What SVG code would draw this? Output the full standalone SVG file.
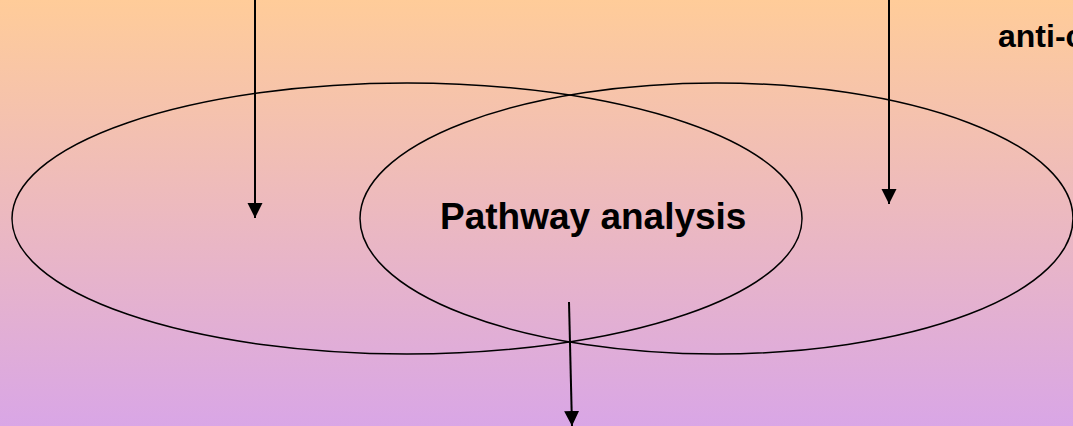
<svg xmlns="http://www.w3.org/2000/svg" width="1073" height="426" viewBox="0 0 1073 426">
<defs>
<linearGradient id="bg" x1="0" y1="0" x2="0" y2="1">
<stop offset="0" stop-color="#FFCC99"/>
<stop offset="1" stop-color="#D9A6E6"/>
</linearGradient>
<marker id="ah" markerWidth="15" markerHeight="16" refX="15" refY="7.5" orient="auto" markerUnits="userSpaceOnUse">
<path d="M0,0 L15,7.5 L0,15 Z" fill="#000"/>
</marker>
<style>
.ell{fill:none;stroke:#000;stroke-width:1.5}
.arr{stroke:#000;stroke-width:2;fill:none;marker-end:url(#ah)}
.lbl{font-family:"Liberation Sans",Arial,sans-serif;font-weight:bold;fill:#000}
</style>
</defs>
<rect x="0" y="0" width="1073" height="426" fill="url(#bg)"/>
<g id="left-set"><ellipse class="ell" cx="407" cy="218.5" rx="395" ry="135.5"/></g>
<g id="right-set"><ellipse class="ell" cx="716.5" cy="218.5" rx="356.5" ry="135.5"/></g>
<g id="center"><text class="lbl" x="440" y="229" font-size="37">Pathway analysis</text></g>
<g id="top-right-label"><text class="lbl" x="998" y="47" font-size="32">anti-c</text></g>
<g id="connectors">
<line class="arr" x1="255" y1="0" x2="255" y2="218"/>
<line class="arr" x1="889" y1="0" x2="889" y2="204"/>
<line class="arr" x1="569" y1="302" x2="572" y2="426"/>
</g>
</svg>
